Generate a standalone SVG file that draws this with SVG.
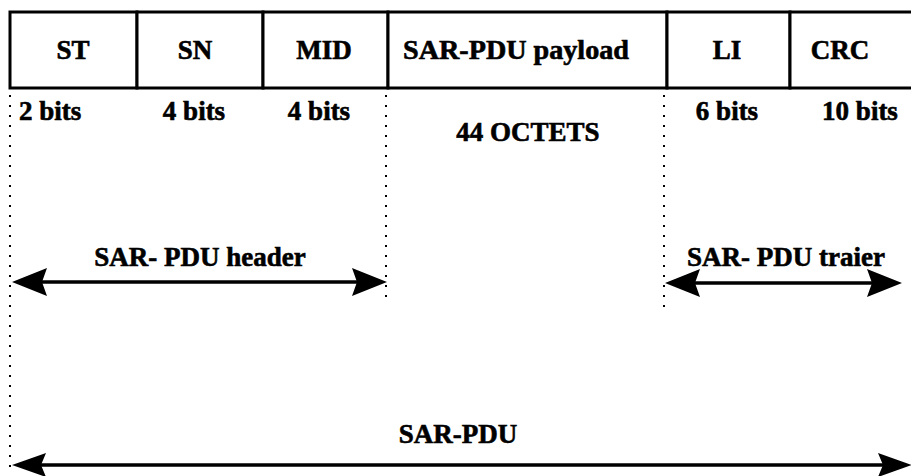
<svg xmlns="http://www.w3.org/2000/svg" width="911" height="476" viewBox="0 0 911 476">
<style>
.t{font-family:"Liberation Serif","Times New Roman",serif;font-weight:bold;font-size:27px;fill:#000;stroke:#000;stroke-width:0.6}
.m{text-anchor:middle}
.cell{fill:#fff;stroke:#000;stroke-width:3}
.dot{stroke:#000;stroke-width:2;stroke-dasharray:2 8;fill:none}
.shaft{stroke:#000;stroke-width:3.5;fill:none}
.head{fill:#000}
</style>
<rect x="0" y="0" width="911" height="476" fill="#fff"/>
<g id="fields">
<g id="st"><rect class="cell" x="10" y="12" width="127" height="76"/><text class="t m" x="73" y="59">ST</text></g>
<g id="sn"><rect class="cell" x="137" y="12" width="126" height="76"/><text class="t m" x="195" y="59">SN</text></g>
<g id="mid"><rect class="cell" x="263" y="12" width="125" height="76"/><text class="t m" x="324" y="59">MID</text></g>
<g id="payload"><rect class="cell" x="388" y="12" width="279" height="76"/><text class="t m" x="516" y="59" textLength="226" lengthAdjust="spacingAndGlyphs">SAR-PDU payload</text></g>
<g id="li"><rect class="cell" x="667" y="12" width="123" height="76"/><text class="t m" x="727" y="59">LI</text></g>
<g id="crc"><rect class="cell" x="790" y="12" width="125" height="76"/><text class="t m" x="840" y="59">CRC</text></g>
</g>
<g id="sizes">
<text class="t" x="19" y="120">2 bits</text>
<text class="t m" x="194" y="120">4 bits</text>
<text class="t m" x="319" y="120">4 bits</text>
<text class="t m" x="528" y="141">44 OCTETS</text>
<text class="t m" x="727" y="120">6 bits</text>
<text class="t m" x="860" y="120">10 bits</text>
</g>
<g id="connectors">
<line class="dot" x1="10" y1="95" x2="10" y2="472"/>
<line class="dot" x1="386" y1="95" x2="386" y2="305"/>
<line class="dot" x1="664" y1="95" x2="664" y2="310"/>
<g id="header-arrow">
<line class="shaft" x1="40" y1="282" x2="360" y2="282"/>
<path class="head" d="M12,282 L47,268 L42,282 L47,296 Z"/>
<path class="head" d="M387,282 L352,268 L357,282 L352,296 Z"/>
</g>
<g id="trailer-arrow">
<line class="shaft" x1="690" y1="283" x2="875" y2="283"/>
<path class="head" d="M665,283 L700,269 L695,283 L700,297 Z"/>
<path class="head" d="M902,283 L867,269 L872,283 L867,297 Z"/>
</g>
<g id="pdu-arrow">
<line class="shaft" x1="40" y1="465" x2="885" y2="465"/>
<path class="head" d="M12,465 L46,453 L41,465 L46,477 Z"/>
<path class="head" d="M912,465 L878,453 L883,465 L878,477 Z"/>
</g>
</g>
<g id="labels">
<text class="t m" x="200" y="266">SAR- PDU header</text>
<text class="t m" x="786" y="266">SAR- PDU traier</text>
<text class="t m" x="458" y="443">SAR-PDU</text>
</g>
</svg>
